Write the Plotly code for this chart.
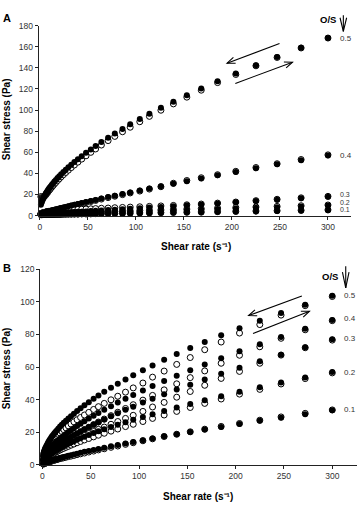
import plotly.graph_objects as go

# ---------------- data ----------------
shear_rate = [1.0, 1.5, 2.0, 2.6, 3.2, 3.9, 4.7, 5.7, 6.3, 7.0, 7.7, 8.4, 9.3, 10.2, 11.3, 12.4,
              13.7, 15.1, 16.6, 18.3, 20.1, 22.1, 24.4, 26.9, 29.6, 32.6, 35.9, 39.5, 43.5, 48,
              53, 58, 64, 71, 78, 86, 94, 104, 114, 126, 139, 153, 168, 185, 204, 225, 247, 272, 300]

os_ratios = ["0.5", "0.4", "0.3", "0.2", "0.1"]
x_ticks = [0, 50, 100, 150, 200, 250, 300]

# Panel A  (filled = up curve, open = down curve)
A_up_05 = [10.3, 11.8, 13.1, 14.5, 15.7, 17.1, 18.5, 20.1, 21.1, 22.1, 23.1, 24.1, 25.3, 26.5, 27.8, 29.2,
           30.6, 32.2, 33.7, 35.5, 37.3, 39.2, 41.2, 43.4, 45.7, 48.1, 50.7, 53.4, 56.3, 59.4,
           62.7, 65.9, 69.6, 73.8, 77.8, 82.1, 86.4, 91.5, 96.4, 102.1, 107.9, 114.0, 120.3, 127.2, 134.6, 142.5, 150.2, 159.0, 168.3]
A_dn_05 = [18.0, 17.0, 16.5, 16.5, 17.0, 17.5, 18.2, 19.2, 20.0, 20.8, 21.6, 22.4, 23.5, 24.5, 25.8, 27.0,
           28.4, 29.9, 31.4, 33.1, 34.8, 36.7, 38.7, 40.8, 43.0, 45.4, 47.9, 50.6, 53.5, 56.6,
           59.9, 63.1, 66.8, 71.0, 75.0, 79.4, 83.7, 88.9, 94.0, 99.8, 105.8, 112.2, 118.8, 126.0, 133.7, 141.9, 149.8, 158.8, 168.2]
A_up_04 = [1.4, 1.6, 1.8, 2.0, 2.2, 2.4, 2.6, 2.9, 3.1, 3.3, 3.5, 3.7, 3.9, 4.2, 4.4, 4.7,
           5.1, 5.4, 5.8, 6.2, 6.6, 7.1, 7.6, 8.2, 8.8, 9.5, 10.2, 11.0, 11.8, 12.8,
           13.8, 14.8, 16.1, 17.5, 18.8, 20.3, 21.9, 23.7, 25.6, 27.8, 30.1, 32.6, 35.2, 38.1, 41.3, 44.9, 48.5, 52.5, 57.0]
A_dn_04 = [1.6, 1.8, 2.0, 2.2, 2.4, 2.6, 2.8, 3.0, 3.2, 3.4, 3.6, 3.8, 4.0, 4.0, 4.2, 4.4,
           4.7, 5.0, 5.3, 5.7, 6.1, 6.6, 7.1, 7.7, 8.3, 9.0, 9.7, 10.5, 11.3, 12.3,
           13.3, 14.3, 15.6, 17.0, 18.3, 19.8, 21.4, 23.2, 25.1, 27.3, 30.6, 33.2, 35.8, 38.7, 41.9, 45.5, 49.1, 53.1, 57.5]
A_up_03 = [1.4, 1.4, 1.4, 1.4, 1.5, 1.5, 1.6, 1.6, 1.6, 1.7, 1.7, 1.8, 1.8, 1.9, 1.9, 2.0,
           2.1, 2.1, 2.2, 2.3, 2.4, 2.5, 2.6, 2.8, 2.9, 3.1, 3.3, 3.5, 3.7, 3.9,
           4.2, 4.5, 4.8, 5.2, 5.6, 6.0, 6.5, 7.0, 7.6, 8.2, 8.9, 9.7, 10.5, 11.5, 12.5, 13.7, 14.9, 16.3, 17.8]
A_dn_03 = [1.8, 2.0, 2.2, 2.4, 2.6, 2.8, 3.0, 3.2, 3.3, 3.4, 3.5, 3.6, 3.7, 3.8, 3.9, 4.0,
           4.1, 4.2, 4.3, 4.4, 4.6, 4.7, 4.9, 5.0, 5.2, 5.4, 5.6, 5.8, 6.0, 6.2,
           6.4, 6.6, 6.9, 7.1, 7.4, 7.7, 8.0, 8.3, 8.7, 9.1, 9.6, 10.2, 10.9, 11.8, 12.8, 14.1, 15.4, 16.8, 18.2]
A_up_02 = [1.0, 1.0, 1.1, 1.1, 1.1, 1.1, 1.1, 1.2, 1.2, 1.2, 1.2, 1.2, 1.3, 1.3, 1.3, 1.3,
           1.4, 1.4, 1.5, 1.5, 1.6, 1.6, 1.7, 1.8, 1.8, 1.9, 2.0, 2.1, 2.2, 2.3,
           2.5, 2.6, 2.8, 3.0, 3.2, 3.4, 3.6, 3.9, 4.2, 4.5, 4.9, 5.3, 5.7, 6.2, 6.7, 7.3, 7.9, 8.6, 9.4]
A_dn_02 = [1.3, 1.4, 1.4, 1.5, 1.5, 1.6, 1.6, 1.7, 1.7, 1.8, 1.8, 1.8, 1.9, 1.9, 2.0, 2.0,
           2.1, 2.1, 2.2, 2.2, 2.3, 2.4, 2.4, 2.5, 2.6, 2.7, 2.8, 2.9, 3.0, 3.1,
           3.3, 3.4, 3.6, 3.8, 4.0, 4.2, 4.4, 4.7, 5.0, 5.3, 5.7, 6.1, 6.5, 7.0, 7.5, 8.1, 8.7, 9.3, 10.0]
A_up_01 = [0.5, 0.5, 0.5, 0.5, 0.6, 0.6, 0.6, 0.6, 0.6, 0.6, 0.6, 0.6, 0.6, 0.7, 0.7, 0.7,
           0.7, 0.7, 0.7, 0.8, 0.8, 0.8, 0.9, 0.9, 0.9, 1.0, 1.0, 1.1, 1.2, 1.2,
           1.3, 1.4, 1.5, 1.6, 1.7, 1.8, 1.9, 2.1, 2.2, 2.4, 2.6, 2.8, 3.0, 3.3, 3.6, 3.9, 4.2, 4.6, 5.0]
A_dn_01 = [0.8, 0.8, 0.9, 0.9, 0.9, 1.0, 1.0, 1.0, 1.0, 1.0, 1.1, 1.1, 1.1, 1.1, 1.1, 1.1,
           1.2, 1.2, 1.2, 1.2, 1.2, 1.3, 1.3, 1.3, 1.4, 1.4, 1.5, 1.5, 1.6, 1.6,
           1.7, 1.8, 1.9, 2.0, 2.1, 2.2, 2.3, 2.5, 2.6, 2.8, 3.0, 3.2, 3.4, 3.7, 4.0, 4.3, 4.6, 5.0, 5.4]

# Panel B
B_up_05 = [6.9, 7.9, 8.8, 9.7, 10.6, 11.5, 12.4, 13.5, 14.1, 14.8, 15.5, 16.1, 16.9, 17.7, 18.5, 19.4,
           20.3, 21.3, 22.3, 23.5, 24.6, 25.8, 27.1, 28.5, 29.9, 31.4, 33.0, 34.7, 36.5, 38.4,
           40.5, 42.5, 44.8, 47.3, 49.7, 52.4, 55.0, 58.0, 61.0, 64.4, 67.9, 71.6, 75.4, 79.4, 83.8, 88.4, 93.1, 98.2, 103.7]
B_dn_05 = [5.5, 6.6, 7.5, 8.3, 9.0, 9.7, 10.4, 11.2, 11.7, 12.3, 12.9, 13.5, 14.2, 14.9, 15.7, 16.4,
           17.2, 17.9, 18.7, 19.5, 20.5, 21.6, 22.7, 23.9, 25.1, 26.4, 27.7, 29.1, 30.6, 32.2,
           34.0, 35.7, 37.7, 39.9, 42.1, 44.6, 47.2, 50.2, 53.8, 57.5, 61.6, 65.8, 70.6, 75.3, 80.8, 86.0, 91.8, 97.6, 103.2]
B_up_04 = [4.1, 4.8, 5.3, 6.0, 6.5, 7.2, 7.8, 8.6, 9.1, 9.5, 10.0, 10.5, 11.1, 11.6, 12.3, 12.9,
           13.7, 14.4, 15.2, 16.1, 17.0, 17.9, 19.0, 20.1, 21.3, 22.5, 23.9, 25.2, 26.7, 28.4,
           30.1, 31.8, 33.8, 36.0, 38.2, 40.5, 42.8, 45.6, 48.3, 51.4, 54.6, 58.0, 61.6, 65.4, 69.6, 74.0, 78.4, 83.5, 88.8]
B_dn_04 = [2.8, 3.3, 3.8, 4.4, 4.9, 5.4, 6.0, 6.6, 7.0, 7.4, 7.7, 8.1, 8.6, 9.0, 9.5, 10.0,
           10.6, 11.2, 11.8, 12.5, 13.2, 14.0, 14.9, 15.8, 16.8, 17.9, 19.0, 20.3, 21.6, 23.1,
           24.7, 26.3, 28.1, 30.2, 32.3, 34.6, 36.9, 39.7, 42.6, 46.0, 49.7, 53.5, 57.6, 62.3, 67.2, 72.4, 77.6, 82.8, 88.4]
B_up_03 = [3.1, 3.6, 4.0, 4.5, 4.9, 5.4, 6.0, 6.6, 7.0, 7.4, 7.8, 8.1, 8.6, 9.1, 9.6, 10.1,
           10.8, 11.4, 12.0, 12.8, 13.5, 14.3, 15.2, 16.1, 17.1, 18.2, 19.3, 20.5, 21.8, 23.2,
           24.7, 26.2, 27.9, 29.8, 31.7, 33.8, 35.7, 38.2, 40.5, 43.3, 46.2, 49.2, 52.3, 55.8, 59.5, 63.5, 67.5, 72.1, 77.0]
B_dn_03 = [2.1, 2.6, 3.0, 3.5, 3.9, 4.4, 4.9, 5.4, 5.7, 6.1, 6.4, 6.7, 7.1, 7.5, 8.0, 8.4,
           8.9, 9.4, 9.9, 10.5, 11.1, 11.8, 12.5, 13.3, 14.1, 15.0, 15.9, 16.9, 18.0, 19.2,
           20.5, 21.8, 23.2, 24.9, 26.6, 28.5, 30.4, 32.8, 35.5, 38.3, 41.5, 45.0, 48.8, 53.0, 57.3, 62.3, 67.3, 71.8, 76.5]
B_up_02 = [2.5, 2.9, 3.3, 3.7, 4.1, 4.5, 4.9, 5.4, 5.7, 6.1, 6.4, 6.7, 7.1, 7.4, 7.9, 8.3,
           8.8, 9.3, 9.8, 10.3, 10.9, 11.5, 12.2, 13.0, 13.7, 14.5, 15.4, 16.3, 17.3, 18.3,
           19.5, 20.6, 21.8, 23.3, 24.6, 26.2, 27.7, 29.4, 31.1, 33.1, 35.2, 37.4, 39.6, 42.1, 44.8, 47.6, 50.5, 53.6, 57.0]
B_dn_02 = [1.9, 2.3, 2.7, 3.1, 3.5, 3.9, 4.3, 4.8, 5.1, 5.4, 5.7, 6.0, 6.3, 6.6, 7.0, 7.4,
           7.8, 8.2, 8.7, 9.2, 9.7, 10.2, 10.8, 11.4, 12.1, 12.8, 13.6, 14.4, 15.3, 16.2,
           17.2, 18.2, 19.4, 20.7, 22.0, 23.5, 24.9, 26.6, 28.5, 30.6, 32.8, 35.2, 37.7, 40.4, 43.4, 46.3, 49.6, 52.9, 56.4]
B_up_01 = [0.7, 0.9, 1.0, 1.2, 1.4, 1.5, 1.7, 1.9, 2.1, 2.2, 2.4, 2.5, 2.7, 2.8, 3.0, 3.2,
           3.5, 3.7, 4.0, 4.3, 4.6, 4.9, 5.2, 5.6, 6.0, 6.4, 6.9, 7.4, 8.0, 8.5,
           9.2, 9.8, 10.6, 11.4, 12.2, 13.1, 14.0, 15.1, 16.2, 17.5, 18.8, 20.2, 21.7, 23.3, 25.1, 27.0, 28.9, 31.1, 33.5]
B_dn_01 = [0.5, 0.7, 0.8, 1.0, 1.1, 1.3, 1.4, 1.6, 1.8, 1.9, 2.1, 2.2, 2.4, 2.5, 2.7, 2.9,
           3.1, 3.3, 3.6, 3.9, 4.1, 4.4, 4.7, 5.1, 5.4, 5.8, 6.3, 6.8, 7.3, 7.9,
           8.5, 9.2, 9.9, 10.8, 11.6, 12.6, 13.6, 14.8, 16.0, 17.4, 18.8, 20.3, 21.9, 23.6, 25.4, 27.4, 29.4, 31.6, 33.7]

A_up = [A_up_05, A_up_04, A_up_03, A_up_02, A_up_01]
A_dn = [A_dn_05, A_dn_04, A_dn_03, A_dn_02, A_dn_01]
B_up = [B_up_05, B_up_04, B_up_03, B_up_02, B_up_01]
B_dn = [B_dn_05, B_dn_04, B_dn_03, B_dn_02, B_dn_01]

# ---------------- figure ----------------
W, H = 358, 517
FONT = "Arial, 'Liberation Sans', sans-serif"


def px(x):
    return x / W


def py(y):
    return 1 - y / H


fig = go.Figure()

open_marker = dict(symbol="circle", size=6, color="white", line=dict(color="black", width=1))
fill_marker = dict(symbol="circle", size=6, color="black", line=dict(color="black", width=0))

for xa, ya, dn_list, up_list in (("x", "y", A_dn, A_up), ("x2", "y2", B_dn, B_up)):
    for name, ys in zip(os_ratios, dn_list):
        fig.add_trace(go.Scatter(x=shear_rate, y=ys, mode="markers", marker=open_marker,
                                 xaxis=xa, yaxis=ya, cliponaxis=False, showlegend=False,
                                 name="O/S " + name + " down"))
    for name, ys in zip(os_ratios, up_list):
        fig.add_trace(go.Scatter(x=shear_rate, y=ys, mode="markers", marker=fill_marker,
                                 xaxis=xa, yaxis=ya, cliponaxis=False, showlegend=False,
                                 name="O/S " + name + " up"))

axis_common = dict(showline=True, linecolor="#222", linewidth=1, ticks="outside", ticklen=3,
                   tickwidth=1, tickcolor="#222", showgrid=False, zeroline=False,
                   tickfont=dict(family=FONT, size=8.5, color="#333"))

fig.update_layout(
    width=W, height=H,
    margin=dict(l=0, r=0, t=0, b=0),
    paper_bgcolor="white", plot_bgcolor="white",
    font=dict(family=FONT, color="black"),
    xaxis=dict(domain=[px(37.7), px(351)], range=[-1.4, 324], anchor="y",
               tickvals=x_ticks, **axis_common),
    yaxis=dict(domain=[py(214.7), py(21)], range=[0, 180], anchor="x", dtick=20, **axis_common),
    xaxis2=dict(domain=[px(39.3), px(357)], range=[-2.3, 325.6], anchor="y2",
                tickvals=x_ticks, **axis_common),
    yaxis2=dict(domain=[py(469), py(269.3)], range=[0, 120], anchor="x2", dtick=20, **axis_common),
)

ann = []


def text(x, y, s, size=10, bold=False, color="black", xanchor="center", angle=0):
    ann.append(dict(x=px(x), y=py(y), xref="paper", yref="paper", showarrow=False,
                    text=("<b>%s</b>" % s) if bold else s, textangle=angle,
                    font=dict(family=FONT, size=size, color=color),
                    xanchor=xanchor, yanchor="middle", borderpad=0))


# panel letters
text(6.3, 13.3, "A", size=11, bold=True)
text(6.2, 268.3, "B", size=11, bold=True)
# axis titles
text(5.5, 116, "Shear stress (Pa)", size=10, bold=True, angle=-90)
text(5.5, 370, "Shear stress (Pa)", size=10, bold=True, angle=-90)
text(196, 246, "Shear rate (s⁻¹)", size=10, bold=True)
text(198, 500.7, "Shear rate (s⁻¹)", size=10, bold=True)
# O/S headers
text(328, 15, "O/S", size=9.5, bold=True)
text(329.7, 276.7, "O/S", size=9.5, bold=True)
# ratio labels
for s, y, sz in zip(os_ratios, [34.3, 153.3, 193.0, 201.0, 209.0], [8, 8, 7, 7, 7]):
    text(339, y, s, size=sz, color="#333", xanchor="left")
for s, y in zip(os_ratios, [296.7, 320, 340, 374.3, 412.7]):
    text(343.3, y, s, size=8, color="#333", xanchor="left")

fig.update_layout(annotations=ann)

# arrows drawn as thin paths (decoration)
shapes = []


def arrow(tail, head, head_len=8.0, head_half=3.2, width=1.1):
    import math
    dx, dy = head[0] - tail[0], head[1] - tail[1]
    L = math.hypot(dx, dy)
    ux, uy = dx / L, dy / L
    bx, by = head[0] - ux * head_len, head[1] - uy * head_len
    p1 = (bx - uy * head_half, by + ux * head_half)
    p2 = (bx + uy * head_half, by - ux * head_half)
    line = dict(color="black", width=width)
    shapes.append(dict(type="path", xref="paper", yref="paper", line=line,
                       path="M %f,%f L %f,%f" % (px(tail[0]), py(tail[1]), px(head[0]), py(head[1]))))
    shapes.append(dict(type="path", xref="paper", yref="paper", line=line,
                       path="M %f,%f L %f,%f L %f,%f" % (px(p1[0]), py(p1[1]), px(head[0]), py(head[1]),
                                                        px(p2[0]), py(p2[1]))))


# hysteresis arrows
arrow((279.3, 39.3), (226.7, 59.3))
arrow((235.0, 80.0), (292.3, 58.3))
arrow((301.7, 296.7), (248.3, 316.7))
arrow((252.7, 335.0), (309.3, 312.3))
# O/S down arrows
arrow((343.3, 10.5), (343.3, 27.0), head_len=14, head_half=3.3)
arrow((345.7, 266.5), (345.7, 288.5), head_len=16, head_half=3.3)

fig.update_layout(shapes=shapes)

fig.write_html("out.html")
